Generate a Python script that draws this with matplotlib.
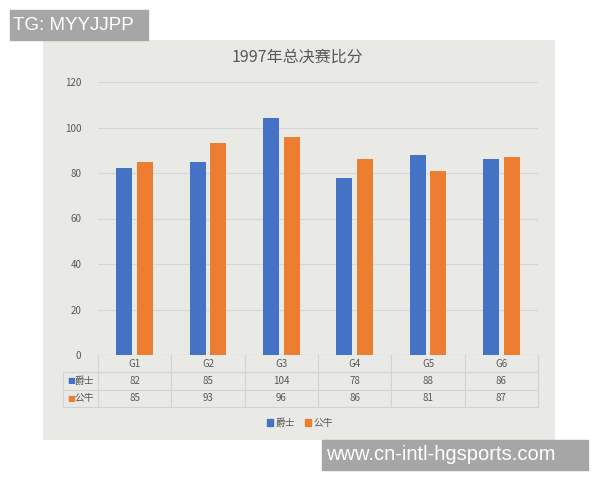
import matplotlib.pyplot as plt
from matplotlib.patches import Rectangle
from matplotlib.transforms import blended_transform_factory
import numpy as np

plt.rcParams['font.family'] = ['Noto Sans CJK SC', 'DejaVu Sans']

# data
games = ['G1', 'G2', 'G3', 'G4', 'G5', 'G6']
jazz = [82, 85, 104, 78, 88, 86]
bulls = [85, 93, 96, 86, 81, 87]
series_names = ['爵士', '公牛']
yticks = [0, 20, 40, 60, 80, 100, 120]

blue = '#4472C4'
orange = '#ED7D31'
txt = '#595959'

W, H = 600, 480
fig = plt.figure(figsize=(6, 4.8), dpi=100)
fig.patch.set_facecolor('white')

def px(x, y, w, h):
    # pixel box (top-left origin) -> figure fraction
    return [x / W, 1 - (y + h) / H, w / W, h / H]

# textured-looking panel (plain light grey)
panel = fig.add_axes(px(43, 40, 512, 400))
panel.set_facecolor('#e9e9e6')
panel.set_xticks([])
panel.set_yticks([])
for s in panel.spines.values():
    s.set_visible(False)

ax_l, ax_w = 98, 440
ax = fig.add_axes(px(ax_l, 82, ax_w, 273))
ax.patch.set_alpha(0)
x = np.arange(len(games))
bw = 0.22
off = 0.14
ax.bar(x - off, jazz, bw, color=blue, zorder=3)
ax.bar(x + off, bulls, bw, color=orange, zorder=3)
ax.set_xlim(-0.5, len(games) - 0.5)
ax.set_ylim(0, 120)
ax.set_yticks(yticks)
ax.tick_params(axis='y', length=0, labelsize=7, labelcolor=txt, pad=12)
ax.set_xticks([])
ax.yaxis.grid(True, color='#d6d6d6', linewidth=0.8, zorder=0)
for s in ax.spines.values():
    s.set_visible(False)
ax.axhline(0, color='#d0d0d0', linewidth=0.8, zorder=2)

fig.text(297 / W, 1 - 57 / H, '1997年总决赛比分', ha='center', va='center',
         fontsize=11.5, color=txt)

# data table under the axis
tr = blended_transform_factory(ax.transData, ax.transAxes)
unit = ax_w / len(games)
def ay(p):
    return (355 - p) / 273.0

line_c = '#d3d3d3'
row_lines = [ay(372), ay(390), ay(407)]
left = -0.5 - (ax_l - 63) / unit
for yl in row_lines:
    ax.plot([left, len(games) - 0.5], [yl, yl], color=line_c, lw=0.8,
            transform=tr, clip_on=False)
for b in np.arange(-0.5, len(games), 1.0):
    ax.plot([b, b], [0, row_lines[-1]], color=line_c, lw=0.8,
            transform=tr, clip_on=False)
ax.plot([left, left], [row_lines[0], row_lines[-1]], color=line_c, lw=0.8,
        transform=tr, clip_on=False)

for i, g in enumerate(games):
    ax.text(i, ay(364), g, transform=tr, ha='center', va='center',
            fontsize=7, color=txt)
    ax.text(i, ay(381), str(jazz[i]), transform=tr, ha='center', va='center',
            fontsize=7, color=txt)
    ax.text(i, ay(398), str(bulls[i]), transform=tr, ha='center', va='center',
            fontsize=7, color=txt)

for name, col, yy in [(series_names[0], blue, 381), (series_names[1], orange, 398)]:
    ax.text(left + 0.06, ay(yy), '■', transform=tr, ha='left', va='center',
            fontsize=6, color=col, family=['DejaVu Sans'])
    ax.text(left + 0.16, ay(yy), name, transform=tr, ha='left', va='center',
            fontsize=7, color=txt)

# legend
handles = [Rectangle((0, 0), 1, 1, color=blue), Rectangle((0, 0), 1, 1, color=orange)]
fig.legend(handles, series_names, loc='center', bbox_to_anchor=(300 / W, 1 - 423 / H),
           ncol=2, frameon=False, fontsize=7, labelcolor=txt,
           handlelength=0.6, handleheight=0.6, handletextpad=0.3, columnspacing=1.0)

# watermark boxes
fig.patches.append(Rectangle((10 / W, 1 - 40 / H), 138 / W, 30 / H,
                             transform=fig.transFigure, color='#a6a6a6'))
fig.text(13 / W, 1 - 25 / H, 'TG: MYYJJPP', ha='left', va='center',
         fontsize=13.5, color='white', family=['Liberation Sans'])
fig.patches.append(Rectangle((322 / W, 1 - 470 / H), 266 / W, 30 / H,
                             transform=fig.transFigure, color='#a6a6a6'))
fig.text(326 / W, 1 - 455 / H, 'www.cn-intl-hgsports.com', ha='left', va='center',
         fontsize=14.5, color='white', family=['Liberation Sans'])

fig.savefig('out.png', dpi=100)
